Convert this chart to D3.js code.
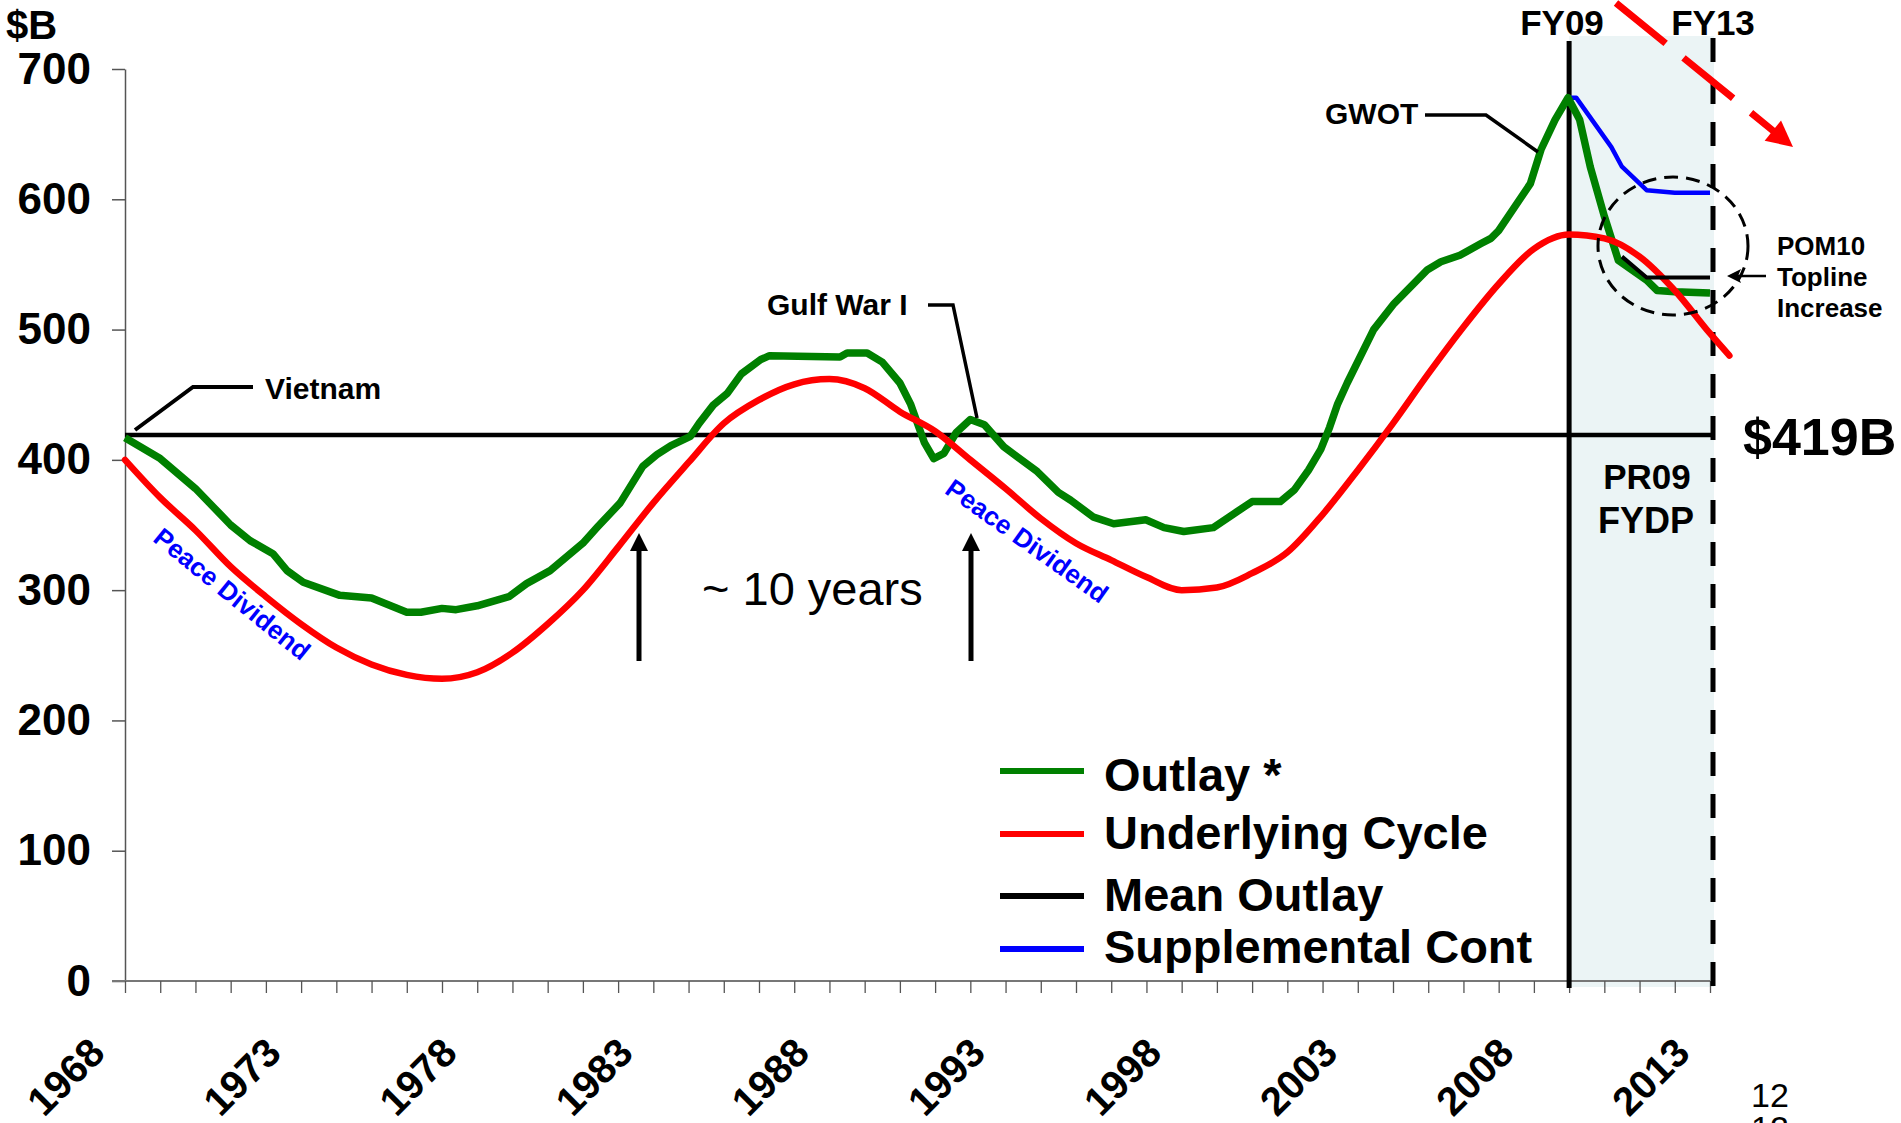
<!DOCTYPE html>
<html>
<head>
<meta charset="utf-8">
<script src="https://cdn.jsdelivr.net/npm/d3@7"></script>
<style>
  html, body { margin: 0; padding: 0; background: #ffffff; }
  svg { display: block; }
  text { font-family: "Liberation Sans", Arial, sans-serif; }
</style>
</head>
<body>
<svg id="chart" width="1901" height="1123"></svg>
<script>
// ---------------- DATA ----------------
const outlayYears  = [1968,1969,1970,1970.5,1971,1971.55,1972.2,1972.6,1973.06,1974.1,1975,1976,1976.4,1977,1977.4,1978,1978.9,1979.4,1980.07,1981,1981.4,1982.06,1982.7,1983.1,1983.5,1984.05,1984.3,1984.7,1985.1,1985.5,1986.05,1986.3,1988.3,1988.5,1989.07,1989.5,1990,1990.3,1990.7,1990.96,1991.25,1991.6,1992,1992.4,1992.95,1993.9,1994.5,1994.85,1995.5,1996.07,1996.98,1997.5,1998.06,1998.9,1999.5,2000,2000.8,2001.2,2001.6,2001.95,2002.2,2002.43,2002.7,2003.45,2004.03,2004.98,2005.36,2005.9,2006.5,2006.78,2007,2007.9,2008.2,2008.6,2008.97,2009.3,2009.6,2010,2010.4,2011.2,2011.5,2012,2013];
const outlayValues = [417,401,378,364,350,338,328,315,306,296,294,283,283,286,285,288,295,305,315,336,348,367,395,404,411,418,428,442,451,466,477,480,479,482,482,475,459,443,413,401,405,421,431,427,410,391,375,369,356,351,354,348,345,348,359,368,368,377,392,408,425,443,459,500,520,546,552,557,566,570,576,612,638,661,678,661,625,587,553,538,530,529,528];

const cycleYears  = [1968,1969,1970,1971,1972,1973,1974,1975,1976,1977,1978,1979,1980,1981,1982,1983,1984,1985,1986,1987,1988,1989,1990,1991,1992,1993,1994,1995,1996,1997,1998,1999,2000,2001,2002,2003,2004,2005,2006,2007,2008,2009,2010,2011,2012,2013,2013.55];
const cycleValues = [400,371,346,318,295,274,256,243,235,232,237,252,274,300,333,367,398,428,446,458,462,455,437,422,400,378,355,336,323,310,300,302,313,329,358,392,428,466,502,535,562,573,570,556,530,497,480];

const suppYears  = [2008.6,2008.97,2009.2,2010.2,2010.5,2011.2,2012,2013];
const suppValues = [661,678,678,640,625,607,605,605];

const pomYears  = [2010.5,2011.2,2013];
const pomValues = [556,540,540];

const meanOutlay = 419;
const yTicks = [0,100,200,300,400,500,600,700];
const xTickYears = d3.range(1968, 2014);
const xLabelYears = [1968,1973,1978,1983,1988,1993,1998,2003,2008,2013];
const fydpStart = 2009, fydpEnd = 2013;
const legendItems = [
  {label: "Outlay *", color: "#008000"},
  {label: "Underlying Cycle", color: "#ff0000"},
  {label: "Mean Outlay", color: "#000000"},
  {label: "Supplemental Cont", color: "#0000ff"}
];

// ---------------- SCALES ----------------
const svg = d3.select("#chart");
const x = d3.scaleLinear().domain([1968, 2013]).range([125, 1710]);
const y = d3.scaleLinear().domain([0, 700]).range([981, 69]);
const FONT = '"Liberation Sans", Arial, sans-serif';

// shaded FYDP region
svg.append("rect")
  .attr("x", x(fydpStart)).attr("y", 36)
  .attr("width", x(fydpEnd) + 4 - x(fydpStart)).attr("height", 951)
  .attr("fill", "#ebf4f5");

// ---------------- AXES ----------------
const yAxis = svg.append("g").attr("transform", "translate(125,0)")
  .call(d3.axisLeft(y).tickValues(yTicks).tickSize(13).tickSizeOuter(0).tickPadding(21).tickFormat(d3.format("d")));
yAxis.select(".domain").attr("stroke", "#555").attr("stroke-width", 1.5);
yAxis.selectAll(".tick line").attr("stroke", "#555").attr("stroke-width", 1.5);
yAxis.selectAll(".tick text").attr("font-family", FONT).attr("font-size", 44).attr("font-weight", "bold").attr("fill", "#000");

const xAxis = svg.append("g").attr("transform", "translate(0,981)")
  .call(d3.axisBottom(x).tickValues(xTickYears).tickSize(12).tickSizeOuter(0).tickFormat(""));
xAxis.select(".domain").attr("stroke", "#777").attr("stroke-width", 2).attr("d", `M112,0H${x(2013)}`);
xAxis.selectAll(".tick line").attr("stroke", "#555").attr("stroke-width", 1.3);

svg.append("g").selectAll("text").data(xLabelYears).join("text")
  .attr("transform", d => `translate(${x(d) - 18},1055) rotate(-45)`)
  .attr("text-anchor", "end")
  .attr("font-size", 40).attr("font-weight", "bold").attr("fill", "#000")
  .text(d => d);

svg.append("text").attr("x", 6).attr("y", 39)
  .attr("font-size", 40).attr("font-weight", "bold").text("$B");

// ---------------- REFERENCE LINES ----------------
svg.append("line")
  .attr("x1", x(fydpStart)).attr("x2", x(fydpStart)).attr("y1", 41).attr("y2", 988)
  .attr("stroke", "#000").attr("stroke-width", 5);
svg.append("line")
  .attr("x1", x(fydpEnd) + 3).attr("x2", x(fydpEnd) + 3).attr("y1", 38).attr("y2", 988)
  .attr("stroke", "#000").attr("stroke-width", 5).attr("stroke-dasharray", "24,18");

svg.append("line")
  .attr("x1", x(1968)).attr("x2", x(2013) + 3).attr("y1", y(meanOutlay)).attr("y2", y(meanOutlay))
  .attr("stroke", "#000").attr("stroke-width", 4.5);

// ---------------- SERIES ----------------
const zip = (xs, vs) => xs.map((d, i) => [d, vs[i]]);
const lineLin = d3.line().x(d => x(d[0])).y(d => y(d[1]));
const lineSmooth = d3.line().x(d => x(d[0])).y(d => y(d[1])).curve(d3.curveMonotoneX);

svg.append("path").datum(zip(suppYears, suppValues)).attr("d", lineLin)
  .attr("fill", "none").attr("stroke", "#0000ff").attr("stroke-width", 4.5).attr("stroke-linejoin", "round");
svg.append("path").datum(zip(outlayYears, outlayValues)).attr("d", lineLin)
  .attr("fill", "none").attr("stroke", "#008000").attr("stroke-width", 7.5).attr("stroke-linejoin", "round");
svg.append("path").datum(zip(cycleYears, cycleValues)).attr("d", lineSmooth)
  .attr("fill", "none").attr("stroke", "#ff0000").attr("stroke-width", 6.5).attr("stroke-linecap", "round");
svg.append("path").datum(zip(pomYears, pomValues)).attr("d", lineLin)
  .attr("fill", "none").attr("stroke", "#000").attr("stroke-width", 4);

// ---------------- ANNOTATIONS ----------------
function leader(points, w) {
  svg.append("path").attr("d", d3.line()(points)).attr("fill", "none")
    .attr("stroke", "#000").attr("stroke-width", w).attr("stroke-linejoin", "miter");
}
function label(txt, xx, yy, size, opts = {}) {
  return svg.append("text").attr("x", xx).attr("y", yy).attr("font-size", size)
    .attr("font-weight", opts.weight || "bold").attr("fill", opts.fill || "#000")
    .attr("text-anchor", opts.anchor || "start").text(txt);
}

leader([[253,387],[193,387],[135,430]], 4);
label("Vietnam", 265, 399, 30);

leader([[928,305],[953,305],[977,418]], 3.5);
label("Gulf War I", 767, 315, 30);

leader([[1425,115],[1486,115],[1538,152]], 3.5);
label("GWOT", 1325, 124, 30);

label("FY09", 1562, 35, 35, {anchor: "middle"});
label("FY13", 1713, 35, 35, {anchor: "middle"});
label("$419B", 1743, 455, 52);
label("PR09", 1647, 489, 35, {anchor: "middle"});
label("FYDP", 1646, 533, 36, {anchor: "middle"});
label("POM10", 1777, 255, 26);
label("Topline", 1777, 286, 26);
label("Increase", 1777, 317, 26);
label("~ 10 years", 702, 605, 47, {weight: "normal"});

// Peace Dividend (rotated)
svg.append("text").attr("transform", "translate(232,594) rotate(39)")
  .attr("text-anchor", "middle").attr("dominant-baseline", "central")
  .attr("font-size", 26).attr("font-weight", "bold").attr("fill", "#0000ff").text("Peace Dividend");
svg.append("text").attr("transform", "translate(1027,541) rotate(35.5)")
  .attr("text-anchor", "middle").attr("dominant-baseline", "central")
  .attr("font-size", 26).attr("font-weight", "bold").attr("fill", "#0000ff").text("Peace Dividend");

// vertical arrows (~10 years)
function upArrow(ax, yTip, yBottom) {
  svg.append("line").attr("x1", ax).attr("x2", ax).attr("y1", yTip + 14).attr("y2", yBottom)
    .attr("stroke", "#000").attr("stroke-width", 5);
  svg.append("path").attr("d", `M${ax},${yTip}L${ax - 9},${yTip + 18}L${ax + 9},${yTip + 18}Z`).attr("fill", "#000");
}
upArrow(639, 533, 661);
upArrow(971, 533, 661);

// Topline arrow (pointing left)
svg.append("line").attr("x1", 1766).attr("x2", 1738).attr("y1", 276).attr("y2", 276)
  .attr("stroke", "#000").attr("stroke-width", 2.5);
svg.append("path").attr("d", "M1727,276L1741,269L1738,276L1741,283Z").attr("fill", "#000");

// dashed ellipse
svg.append("ellipse").attr("cx", 1673).attr("cy", 246).attr("rx", 75).attr("ry", 69)
  .attr("fill", "none").attr("stroke", "#000").attr("stroke-width", 3).attr("stroke-dasharray", "14,8");

// red dashed trend arrow
(function () {
  const x0 = 1616, y0 = 3, x1 = 1793, y1 = 147;
  const len = Math.hypot(x1 - x0, y1 - y0);
  const ux = (x1 - x0) / len, uy = (y1 - y0) / len;
  const head = 26, half = 13;
  const bx = x1 - ux * head, by = y1 - uy * head;
  svg.append("line").attr("x1", x0).attr("y1", y0).attr("x2", bx + ux * 2).attr("y2", by + uy * 2)
    .attr("stroke", "#ff0000").attr("stroke-width", 7).attr("stroke-dasharray", "64,23");
  svg.append("path")
    .attr("d", `M${x1},${y1}L${bx - uy * half},${by + ux * half}L${bx + uy * half},${by - ux * half}Z`)
    .attr("fill", "#ff0000");
})();

// ---------------- LEGEND ----------------
const legendLineY = [771, 834, 896, 949];
const legendTextY = [791, 849, 911, 963];
const lg = svg.append("g");
legendItems.forEach((d, i) => {
  lg.append("line").attr("x1", 1000).attr("x2", 1084).attr("y1", legendLineY[i]).attr("y2", legendLineY[i])
    .attr("stroke", d.color).attr("stroke-width", 6);
  lg.append("text").attr("x", 1104).attr("y", legendTextY[i]).attr("font-size", 47)
    .attr("font-weight", "bold").attr("fill", "#000").text(d.label);
});

// page number
label("12", 1770, 1107, 34, {weight: "normal", anchor: "middle"});
label("12", 1770, 1140, 34, {weight: "normal", anchor: "middle"});
</script>
</body>
</html>
